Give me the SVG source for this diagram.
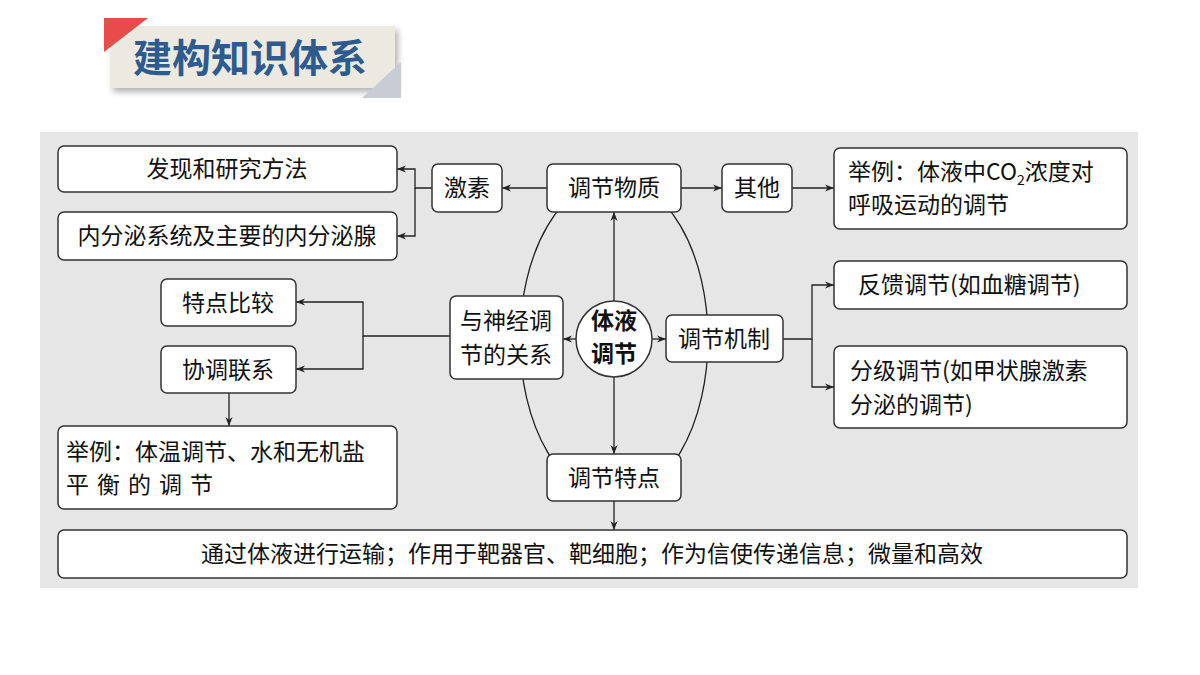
<svg xmlns="http://www.w3.org/2000/svg" width="1200" height="675" viewBox="0 0 1200 675">
<defs>
<marker id="a" viewBox="0 0 10 10" refX="10" refY="5" markerWidth="9" markerHeight="9" markerUnits="userSpaceOnUse" orient="auto"><path d="M0,1 L10,5 L0,9 L3,5 Z" fill="#222"/></marker>
<filter id="sh" x="-20%" y="-20%" width="140%" height="160%"><feDropShadow dx="3" dy="4" stdDeviation="3" flood-opacity="0.3"/></filter>
</defs>
<style>
.b{fill:#fff;stroke:#333;stroke-width:1.5}
.t{font-family:"Noto Sans CJK SC",sans-serif;font-size:23px;fill:#111}
.c{stroke:#222;stroke-width:1.3;fill:none}
</style>
<rect width="1200" height="675" fill="#fff"/>
<g id="header">
<rect x="110" y="26" width="285" height="62" fill="#ece9e0" filter="url(#sh)"/>
<polygon points="104,18 148,18 104,52" fill="#e84c4a"/>
<polygon points="401,62 401,98 362,98" fill="#c8cdd5"/>
<text x="133" y="72" font-family="Noto Sans CJK SC,sans-serif" font-size="39" font-weight="bold" fill="#2e5b8e">建构知识体系</text>
</g>
<rect x="40" y="132" width="1098" height="456" fill="#e6e6e6"/>
<ellipse cx="614" cy="339" rx="94" ry="160" class="c" stroke-width="1"/>
<g id="connectors">
<line x1="547" y1="188" x2="502" y2="188" class="c" marker-end="url(#a)"/>
<polyline points="432,188 415,188 415,169 397,169" class="c" marker-end="url(#a)"/>
<polyline points="415,188 415,236 397,236" class="c" marker-end="url(#a)"/>
<line x1="681" y1="188" x2="722" y2="188" class="c" marker-end="url(#a)"/>
<line x1="792" y1="188" x2="834" y2="188" class="c" marker-end="url(#a)"/>
<line x1="614" y1="301" x2="614" y2="212" class="c" marker-end="url(#a)"/>
<line x1="614" y1="377" x2="614" y2="454" class="c" marker-end="url(#a)"/>
<line x1="576" y1="339" x2="563" y2="339" class="c" marker-end="url(#a)"/>
<line x1="652" y1="339" x2="666" y2="339" class="c" marker-end="url(#a)"/>
<polyline points="783,339 812,339 812,285 834,285" class="c" marker-end="url(#a)"/>
<polyline points="812,339 812,387 834,387" class="c" marker-end="url(#a)"/>
<polyline points="450,336 363,336 363,302 296,302" class="c" marker-end="url(#a)"/>
<polyline points="363,336 363,369 296,369" class="c" marker-end="url(#a)"/>
<line x1="229" y1="393" x2="229" y2="426" class="c" marker-end="url(#a)"/>
<line x1="614" y1="501" x2="614" y2="530" class="c" marker-end="url(#a)"/>
</g>
<g id="n1"><rect class="b" x="58" y="146" width="339" height="46" rx="6"/><text class="t" x="227" y="177" text-anchor="middle">发现和研究方法</text></g>
<g id="n2"><rect class="b" x="58" y="212" width="339" height="48" rx="6"/><text class="t" x="227" y="244" text-anchor="middle">内分泌系统及主要的内分泌腺</text></g>
<g id="n3"><rect class="b" x="432" y="164" width="70" height="48" rx="6"/><text class="t" x="467" y="196" text-anchor="middle">激素</text></g>
<g id="n4"><rect class="b" x="547" y="164" width="134" height="48" rx="6"/><text class="t" x="614" y="196" text-anchor="middle">调节物质</text></g>
<g id="n5"><rect class="b" x="722" y="164" width="70" height="48" rx="6"/><text class="t" x="757" y="196" text-anchor="middle">其他</text></g>
<g id="n6"><rect class="b" x="834" y="148" width="293" height="81" rx="6"/><text class="t" x="848" y="180">举例：体液中CO<tspan font-size="14" dy="5">2</tspan><tspan dy="-5">浓度对</tspan></text><text class="t" x="848" y="213">呼吸运动的调节</text></g>
<g id="n7"><rect class="b" x="161" y="279" width="135" height="47" rx="6"/><text class="t" x="228" y="311" text-anchor="middle">特点比较</text></g>
<g id="n8"><rect class="b" x="161" y="346" width="135" height="47" rx="6"/><text class="t" x="228" y="378" text-anchor="middle">协调联系</text></g>
<g id="n9"><rect class="b" x="450" y="296" width="113" height="83" rx="6"/><text class="t" x="506" y="329" text-anchor="middle">与神经调</text><text class="t" x="506" y="363" text-anchor="middle">节的关系</text></g>
<g id="n10"><circle class="b" cx="614" cy="339" r="38"/><text class="t" x="614" y="329" text-anchor="middle" font-weight="bold" font-size="20">体液</text><text class="t" x="614" y="362" text-anchor="middle" font-weight="bold" font-size="20">调节</text></g>
<g id="n11"><rect class="b" x="666" y="315" width="117" height="47" rx="6"/><text class="t" x="724" y="347" text-anchor="middle">调节机制</text></g>
<g id="n12"><rect class="b" x="834" y="261" width="293" height="48" rx="6"/><text class="t" x="858" y="293">反馈调节(如血糖调节)</text></g>
<g id="n13"><rect class="b" x="834" y="346" width="293" height="82" rx="6"/><text class="t" x="850" y="379">分级调节(如甲状腺激素</text><text class="t" x="850" y="413">分泌的调节)</text></g>
<g id="n14"><rect class="b" x="58" y="426" width="339" height="83" rx="6"/><text class="t" x="66" y="460">举例：体温调节、水和无机盐</text><text class="t" x="66" y="493" letter-spacing="8">平衡的调节</text></g>
<g id="n15"><rect class="b" x="547" y="454" width="134" height="47" rx="6"/><text class="t" x="614" y="486" text-anchor="middle">调节特点</text></g>
<g id="n16"><rect class="b" x="58" y="530" width="1069" height="48" rx="6"/><text class="t" x="592" y="562" text-anchor="middle">通过体液进行运输；作用于靶器官、靶细胞；作为信使传递信息；微量和高效</text></g>
</svg>
